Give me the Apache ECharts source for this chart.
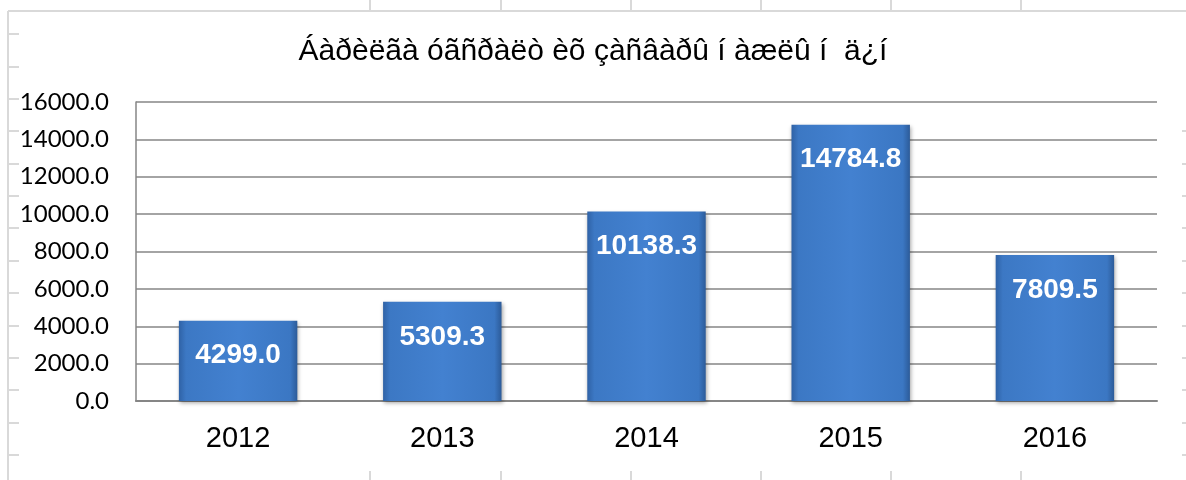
<!DOCTYPE html>
<html>
<head>
<meta charset="utf-8">
<script src="https://cdn.jsdelivr.net/npm/echarts@6/dist/echarts.min.js"></script>
<style>
html,body{margin:0;padding:0;background:#fff;}
#c{width:1186px;height:480px;}
</style>
</head>
<body>
<div id="c"></div>
<script>
const titleText = "Áàðèëãà óãñðàëò èõ çàñâàðû í àæëû í  ä¿í";
const categories = ["2012", "2013", "2014", "2015", "2016"];
const values = [4299.0, 5309.3, 10138.3, 14784.8, 7809.5];
const yMin = 0, yMax = 16000, yStep = 2000;

const chart = echarts.init(document.getElementById('c'), null, {renderer: 'canvas'});

// decorative spreadsheet frame lines (not data)
const deco = [];
const lineStyle = {stroke: '#d9d9d9', lineWidth: 2};
deco.push({type: 'line', shape: {x1: 8, y1: 11, x2: 1186, y2: 11}, style: lineStyle, silent: true});
deco.push({type: 'line', shape: {x1: 8, y1: 11, x2: 8, y2: 480}, style: lineStyle, silent: true});
[370, 501, 631, 761, 891, 1021].forEach(x => {
  deco.push({type: 'line', shape: {x1: x, y1: 0, x2: x, y2: 10}, style: lineStyle, silent: true});
  deco.push({type: 'line', shape: {x1: x, y1: 471, x2: x, y2: 480}, style: lineStyle, silent: true});
});
for (let k = 0; k < 14; k++) {
  const y = Math.round(34.3 + 32.36 * k);
  deco.push({type: 'line', shape: {x1: 8, y1: y, x2: 19, y2: y}, style: lineStyle, silent: true});
  if (k > 2) deco.push({type: 'line', shape: {x1: 1182, y1: y, x2: 1186, y2: y}, style: lineStyle, silent: true});
}

chart.setOption({
  animation: false,
  backgroundColor: '#ffffff',
  title: {
    text: titleText,
    left: 'center',
    top: 32,
    textStyle: {fontFamily: 'Liberation Sans, Arial, sans-serif', fontSize: 30, fontWeight: 'normal', color: '#000'}
  },
  graphic: deco,
  grid: {left: 136, right: 29, top: 102, bottom: 79, containLabel: false},
  xAxis: {
    type: 'category',
    data: categories,
    axisLine: {show: true, lineStyle: {color: '#868686', width: 2}},
    axisTick: {show: false},
    axisLabel: {fontFamily: 'Liberation Sans, Arial, sans-serif', fontSize: 29, color: '#000', margin: 23}
  },
  yAxis: {
    type: 'value',
    min: yMin, max: yMax, interval: yStep,
    axisLine: {show: true, lineStyle: {color: '#868686', width: 1.5}},
    axisTick: {show: false},
    splitLine: {lineStyle: {color: '#868686', width: 1.5}},
    axisLabel: {fontFamily: 'Lato, sans-serif', fontSize: 24, color: '#000', margin: 27,
      formatter: v => v.toFixed(1)}
  },
  series: [{
    type: 'bar',
    data: values,
    barWidth: '58%',
    itemStyle: {
      color: new echarts.graphic.LinearGradient(0, 0, 1, 0, [
        {offset: 0, color: '#2f62a6'},
        {offset: 0.06, color: '#3c78c4'},
        {offset: 0.5, color: '#4381d0'},
        {offset: 0.94, color: '#3b77c3'},
        {offset: 1, color: '#2c5b99'}
      ]),
      shadowColor: 'rgba(0,0,0,0.35)',
      shadowBlur: 4,
      shadowOffsetX: 1,
      shadowOffsetY: 2
    },
    label: {
      show: true,
      position: 'insideTop',
      distance: 21,
      fontFamily: 'Liberation Sans, Arial, sans-serif',
      fontSize: 28,
      fontWeight: 'bold',
      color: '#fff',
      formatter: p => p.value.toFixed(1)
    }
  }]
});
</script>
</body>
</html>
